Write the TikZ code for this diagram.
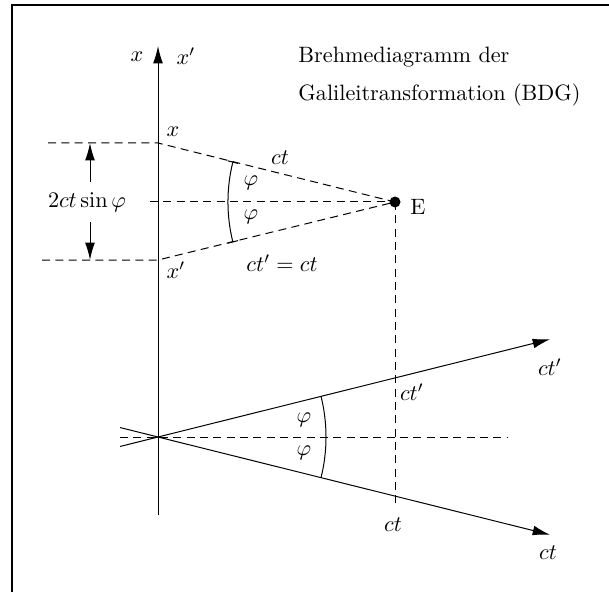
\documentclass[tikz,border=0pt]{standalone}
\usetikzlibrary{arrows.meta,calc}
\begin{document}
\begin{tikzpicture}[x=0.45pt,y=-0.45pt,
  ln/.style={line width=0.45pt},
  dsh/.style={line width=0.45pt,dash pattern=on 3.6pt off 2.4pt},
  tip/.style={-{Latex[length=7.8pt,width=4.4pt]}},
  lbl/.style={inner sep=0pt}]
\useasboundingbox (0,0) rectangle (609,592);
% frame
\coordinate (f1) at (12,592);
\coordinate (f2) at (12,5);
\coordinate (f3) at (609,5);
\draw[line width=0.7pt] (f1) -- (f2) -- (f3);
% key points
\coordinate (O) at (158,437);
\coordinate (A) at (158,143);
\coordinate (B) at (158,260);
\coordinate (E) at (395,202);
\coordinate (axbot) at (158,515);
\coordinate (axtop) at (158,46);
% vertical axis
\draw[ln,tip] (axbot) -- (axtop);
\node[lbl] (lx) at (137,57) {$x$};
\node[lbl] (lxp) at (186,56) {$x'$};
% title
\node[lbl,anchor=west] (t1) at (298,57) {Brehmediagramm der};
\node[lbl,anchor=west] (t2) at (298,95) {Galileitransformation (BDG)};
% upper dashed construction
\coordinate (h1) at (48,143);
\coordinate (h2) at (42,260);
\coordinate (m1) at (150,202);
\draw[dsh] (h1) -- (A) -- (E);
\draw[dsh] (h2) -- (B) -- (E);
\draw[dsh] (m1) -- (E);
\fill (E) circle[radius=5.5];
\node[lbl] (lE) at (418,207) {E};
\node[lbl] (lxA) at (173,132) {$x$};
\node[lbl] (lxB) at (176,270) {$x'$};
\node[lbl] (lct) at (280,158) {$ct$};
\node[lbl] (lctp) at (282,263) {$ct'=ct$};
\draw[ln,|-|] ($(E)+(166:167)$) arc[start angle=166,end angle=194,radius=167];
\node[lbl] (p1) at (251,183) {$\varphi$};
\node[lbl] (p2) at (251,217) {$\varphi$};
% 2ct sin phi
\node[lbl] (d) at (87,202) {$2ct\sin\varphi$};
\coordinate (a1) at (90,182);
\coordinate (a1t) at (90,143);
\coordinate (a2) at (90,222);
\coordinate (a2t) at (90,260);
\draw[ln,tip] (a1) -- (a1t);
\draw[ln,tip] (a2) -- (a2t);
% lower part
\coordinate (ctpT) at ($(O)+(-14:404)$);
\coordinate (ctpS) at ($(O)+(166:39)$);
\coordinate (ctT) at ($(O)+(14:404)$);
\coordinate (ctS) at ($(O)+(194:39)$);
\draw[ln,tip] (ctpS) -- (ctpT);
\draw[ln,tip] (ctS) -- (ctT);
\coordinate (hl) at (120,437);
\coordinate (hr) at (507,437);
\draw[dsh] (hl) -- (hr);
\coordinate (Eb) at (395,505);
\draw[dsh] (E) -- (Eb);
\draw[ln] ($(O)+(-14:168)$) arc[start angle=-14,end angle=14,radius=168];
\node[lbl] (q1) at (304,420) {$\varphi$};
\node[lbl] (q2) at (304,453) {$\varphi$};
\node[lbl] (lctp2) at (412,392) {$ct'$};
\node[lbl] (lct2) at (393,525) {$ct$};
\node[lbl] (lctp3) at (550,367) {$ct'$};
\node[lbl] (lct3) at (548,553) {$ct$};
\end{tikzpicture}
\end{document}
